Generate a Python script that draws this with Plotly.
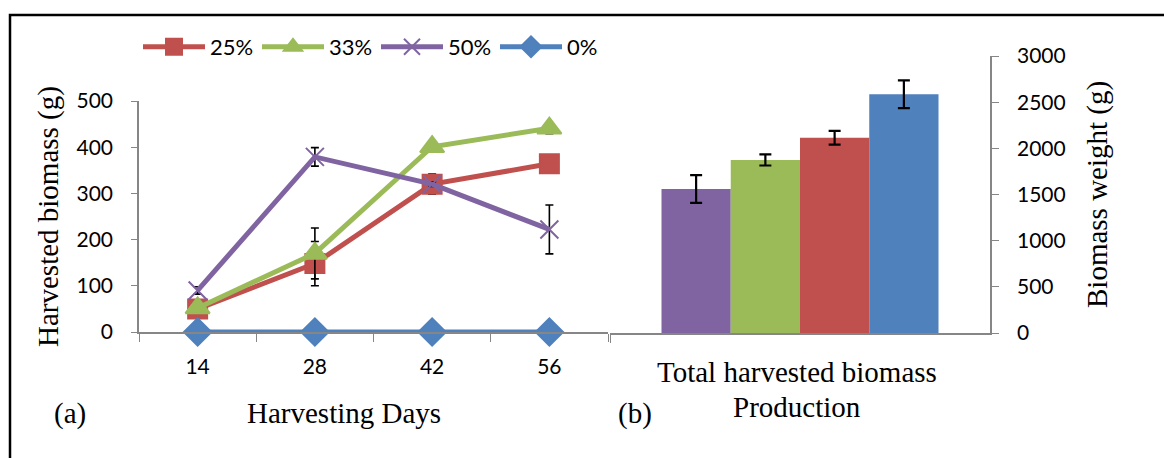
import plotly.graph_objects as go

# ---- data -------------------------------------------------------------
days = ["14", "28", "42", "56"]

series_names = ["25%", "33%", "50%", "0%"]
biomass_25 = [50, 148, 320, 364]
biomass_33 = [52, 170, 401, 441]
biomass_50 = [90, 379, 320, 222]
biomass_0 = [0, 0, 0, 0]
err_25 = [5, 48, 22, 8]
err_33 = [5, 55, 8, 12]
err_50 = [8, 20, 5, 53]
err_0 = [0, 0, 0, 0]

total_category = ["Total harvested biomass"]
total_names = ["50%", "33%", "25%", "0%"]
total_weight = [1560, 1874, 2115, 2585]
total_err = [150, 60, 75, 150]

# ---- styling ------------------------------------------------------------
W, H = 1164, 458
RED, GREEN, PURPLE, BLUE = "#C0504D", "#9BBB59", "#8064A2", "#4F81BD"
AXIS = "#868686"
SANS = "Lato"
SERIF = "Liberation Serif"


def px_x(p):
    return p / W


def px_y(p):
    return 1 - p / H


fig = go.Figure()

line_specs = [
    (series_names[0], biomass_25, err_25, RED, "square", 19),
    (series_names[1], biomass_33, err_33, GREEN, "triangle-up", 21),
    (series_names[2], biomass_50, err_50, PURPLE, "x-thin", 18),
    (series_names[3], biomass_0, err_0, BLUE, "diamond", 21),
]
for name, vals, errs, color, sym, size in line_specs:
    show_err = any(e > 0 for e in errs)
    fig.add_trace(go.Scatter(
        x=days, y=vals, name=name, mode="lines+markers",
        line=dict(color=color, width=5),
        marker=dict(symbol=sym, size=size, color=color,
                    line=dict(color=color, width=2)),
        error_y=dict(type="data", array=errs, visible=show_err,
                     color="black", thickness=1.6, width=4),
        cliponaxis=False, xaxis="x", yaxis="y",
    ))

bar_colors = [PURPLE, GREEN, RED, BLUE]
for name, val, err, color in zip(total_names, total_weight, total_err, bar_colors):
    fig.add_trace(go.Bar(
        x=total_category, y=[val], name=name, showlegend=False,
        marker=dict(color=color, line=dict(width=0)),
        error_y=dict(type="data", array=[err], color="black",
                     thickness=2.2, width=6),
        xaxis="x2", yaxis="y2",
    ))

axis_common = dict(showgrid=False, zeroline=False, showline=True,
                   linecolor=AXIS, linewidth=1.6, ticks="outside",
                   tickcolor=AXIS, tickwidth=1.4, fixedrange=True,
                   automargin=False,
                   tickfont=dict(family=SANS, size=21, color="black"))

fig.update_layout(
    width=W, height=H, autosize=False,
    margin=dict(l=0, r=0, t=0, b=0, pad=0, autoexpand=False),
    paper_bgcolor="white", plot_bgcolor="white",
    barmode="group", bargap=0.271, bargroupgap=0,
    xaxis=dict(domain=[px_x(139), px_x(608)], type="category",
               range=[-0.5, 3.5], tickson="boundaries", ticklen=8,
               ticklabelstandoff=15, anchor="y", **axis_common),
    yaxis=dict(domain=[px_y(332), px_y(101)], range=[0, 500],
               tickvals=[0, 100, 200, 300, 400, 500], ticklen=6,
               ticklabelstandoff=14, anchor="x", **axis_common),
    xaxis2=dict(domain=[px_x(610), px_x(990)], type="category",
                range=[-0.5, 0.5], tickson="boundaries", ticklen=8,
                showticklabels=False, anchor="y2", **axis_common),
    yaxis2=dict(domain=[px_y(333), px_y(56)], range=[0, 3000],
                tickvals=[0, 500, 1000, 1500, 2000, 2500, 3000], ticklen=7,
                side="right", ticklabelstandoff=14, anchor="x2",
                **axis_common),
    legend=dict(orientation="h", x=px_x(138), xanchor="left",
                y=px_y(47), yanchor="middle", bgcolor="rgba(0,0,0,0)",
                font=dict(family=SANS, size=22, color="black"),
                itemwidth=62, entrywidth=42, entrywidthmode="pixels",
                tracegroupgap=0, itemclick=False),
)

serif = dict(family=SERIF, size=29, color="black")
annotations = [
    dict(text="Harvesting Days", x=px_x(344), y=px_y(413)),
    dict(text="(a)", x=px_x(70), y=px_y(413)),
    dict(text="(b)", x=px_x(635), y=px_y(413)),
    dict(text=total_category[0], x=px_x(797), y=px_y(372)),
    dict(text="Production", x=px_x(797), y=px_y(407)),
    dict(text="Harvested biomass (g)", x=px_x(49), y=px_y(217), textangle=-90),
    dict(text="Biomass weight (g)", x=px_x(1098), y=px_y(195), textangle=-90),
]
for a in annotations:
    fig.add_annotation(xref="paper", yref="paper", showarrow=False,
                       xanchor="center", yanchor="middle", font=serif, **a)

# outer frame: left and top edges visible
fig.add_shape(type="rect", xref="paper", yref="paper",
              x0=px_x(10), x1=1.05, y0=-0.05, y1=px_y(15),
              line=dict(color="black", width=2.5), fillcolor="rgba(0,0,0,0)",
              layer="above")

fig.write_html("out.html")
